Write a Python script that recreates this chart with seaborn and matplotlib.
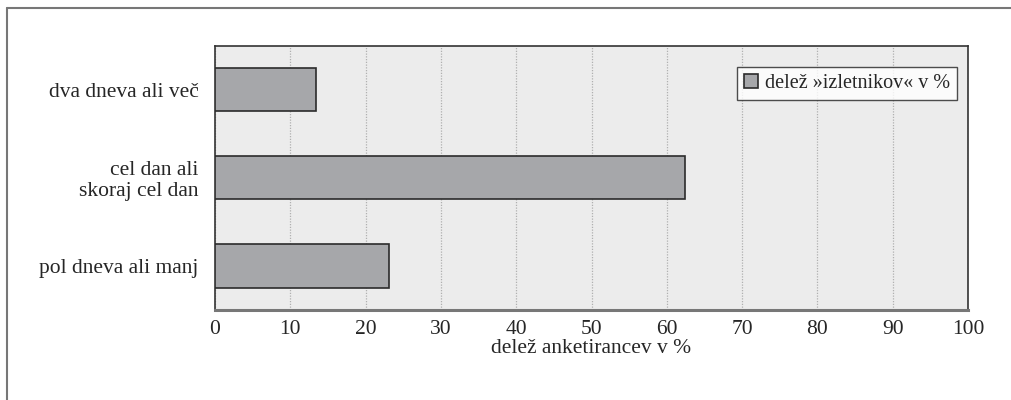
import matplotlib
matplotlib.use("Agg")
import matplotlib.pyplot as plt
import seaborn as sns
import pandas as pd
from matplotlib.lines import Line2D

# ── Data ──────────────────────────────────────────────────────────────────────
categories = ["dva dneva ali več", "cel dan ali\nskoraj cel dan", "pol dneva ali manj"]
shares = [13.4, 62.4, 23.1]
series_label = "delež »izletnikov« v %"
xlabel = "delež anketirancev v %"
xticks = list(range(0, 101, 10))

df = pd.DataFrame({"kategorija": categories, "delez": shares})

# ── Style ─────────────────────────────────────────────────────────────────────
sns.set_style("white")
plt.rcParams["font.family"] = ["Liberation Serif", "DejaVu Serif"]
fs = 15.5

fig = plt.figure(figsize=(10.12, 4.0), dpi=100)
ax = fig.add_axes([0.2125, 0.225, 0.744, 0.661])
ax.set_facecolor("#ececec")

sns.barplot(data=df, x="delez", y="kategorija", orient="h", ax=ax,
            color="#a6a7aa", edgecolor="#2b2b2b", linewidth=1.2,
            width=0.49, saturation=1, label=series_label, zorder=3)

ax.set_xlim(0, 100)
ax.set_ylim(2.5, -0.5)
ax.set_xticks(xticks)
ax.set_xticklabels([str(t) for t in xticks], fontsize=fs)
ax.set_xlabel(xlabel, fontsize=fs, labelpad=0)
ax.set_ylabel("")
ax.tick_params(axis="y", length=0, pad=12, labelsize=fs)
ax.tick_params(axis="x", direction="out", length=5, width=1, color="#222222", pad=2)
for lbl in ax.get_yticklabels():
    lbl.set_linespacing(1.1)

ax.grid(axis="x", linestyle=(0, (1, 1.2)), color="#b0b0b0", linewidth=0.9, zorder=0)
ax.set_axisbelow(True)

for side in ["left", "top", "right"]:
    ax.spines[side].set_color("#333333")
    ax.spines[side].set_linewidth(1.2)
ax.spines["bottom"].set_color("#777777")
ax.spines["bottom"].set_linewidth(2.2)

leg = ax.legend(loc="upper right", bbox_to_anchor=(0.985, 0.918), frameon=True,
                fancybox=False, handlelength=0.7, handleheight=0.7,
                handletextpad=0.3, borderpad=0.35, borderaxespad=0, fontsize=14.5)
leg.get_frame().set_edgecolor("#222222")
leg.get_frame().set_facecolor("white")
leg.get_frame().set_linewidth(1.0)

# outer frame (top and left only)
fig.add_artist(Line2D([0.0069, 1.0], [0.98, 0.98], color="#777777", lw=1.5))
fig.add_artist(Line2D([0.0069, 0.0069], [0.0, 0.98], color="#777777", lw=1.5))

plt.savefig("out.png", dpi=100)
